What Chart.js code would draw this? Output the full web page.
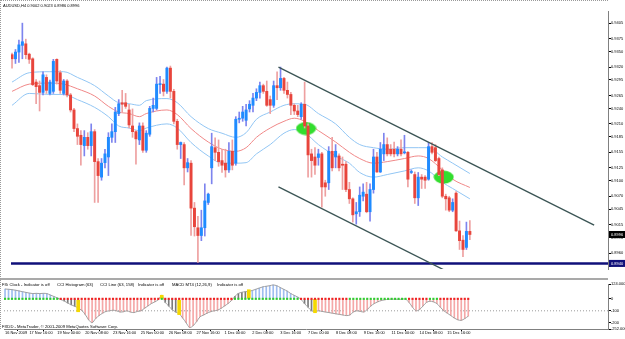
<!DOCTYPE html>
<html><head><meta charset="utf-8">
<script src="https://cdn.jsdelivr.net/npm/chart.js@4.4.0/dist/chart.umd.min.js"></script>
<style>
html,body{margin:0;padding:0;background:#fff;}
#wrap{position:relative;width:625px;height:339px;overflow:hidden;background:#fff;font-family:'Liberation Sans',Arial,sans-serif;}
canvas{position:absolute;left:0;}
#main{top:0;}
#ind{top:280px;}
.t{position:absolute;white-space:nowrap;font-size:4.2px;line-height:5px;color:#000;}
#sep{position:absolute;left:0;top:278px;width:608px;height:2px;background:#a9a9a9;}
#lb{position:absolute;left:0;top:0;width:0;height:329px;border-left:1px dotted #9a9a9a;}
#tb{position:absolute;left:0;top:0;width:608px;height:0;border-top:1px dotted #9a9a9a;}
</style></head>
<body><div id="wrap">
<canvas id="main" width="625" height="280"></canvas>
<canvas id="ind" width="625" height="59"></canvas>
<div id="sep"></div><div id="lb"></div><div id="tb"></div>
<div class="t" id="hdr" style="left:3px;top:3px;font-size:4.0px"></div>
<div class="t" style="left:2px;top:282px">FXi Clock - Indicator is off</div>
<div class="t" style="left:57px;top:282px">CCI Histogram (63)</div>
<div class="t" style="left:100px;top:282px">CCI Line (63, 158)</div>
<div class="t" style="left:138px;top:282px">Indicator is off</div>
<div class="t" style="left:172px;top:282px">MACD MT4 (12,26,9)</div>
<div class="t" style="left:217px;top:282px">Indicator is off</div>
<div class="t" style="left:2px;top:324px">FXDD - MetaTrader, © 2001-2009 MetaQuotes Software Corp.</div>
</div>
<script>
const symbol = 'AUDUSD', timeframe = 'H4';
const opens = [
0.9344,0.9336,0.9349,0.9362,0.9365,0.9345,0.9336,0.9291,0.9284,0.9271,
0.9300,0.9269,0.9273,0.9335,0.9309,0.9269,0.9293,0.9266,0.9237,0.9201,
0.9188,0.9168,0.9184,0.9168,0.9195,0.9137,0.9107,0.9135,0.9146,0.9184,
0.9195,0.9230,0.9251,0.9251,0.9237,0.9206,0.9195,0.9179,0.9206,0.9159,
0.9190,0.9240,0.9240,0.9286,0.9287,0.9273,0.9318,0.9273,0.9215,0.9170,
0.9170,0.9125,0.9134,0.9047,0.9009,0.8994,0.9009,0.9058,0.9125,0.9164,
0.9155,0.9139,0.9134,0.9121,0.9157,0.9134,0.9219,0.9221,0.9217,0.9239,
0.9246,0.9260,0.9271,0.9284,0.9273,0.9257,0.9246,0.9284,0.9280,0.9298,
0.9275,0.9267,0.9246,0.9235,0.9224,0.9248,0.9206,0.9152,0.9146,0.9145,
0.9152,0.9096,0.9096,0.9157,0.9146,0.9148,0.9132,0.9132,0.9083,0.9065,
0.9036,0.9040,0.9070,0.9074,0.9040,0.9083,0.9146,0.9117,0.9152,0.9170,
0.9161,0.9161,0.9152,0.9161,0.9154,0.9155,0.9116,0.9112,0.9067,0.9107,
0.9107,0.9103,0.9166,0.9164,0.9143,0.9121,0.9070,0.9067,0.9043,0.9076,
0.9003,0.8985,0.8971,0.9002];
const highs = [
0.9347,0.9354,0.9372,0.9405,0.9374,0.9347,0.9338,0.9296,0.9293,0.9311,
0.9305,0.9295,0.9335,0.9336,0.9313,0.9296,0.9296,0.9269,0.9240,0.9210,
0.9197,0.9197,0.9193,0.9210,0.9199,0.9143,0.9143,0.9161,0.9193,0.9210,
0.9242,0.9257,0.9275,0.9269,0.9248,0.9239,0.9197,0.9212,0.9212,0.9197,
0.9244,0.9260,0.9300,0.9302,0.9296,0.9320,0.9322,0.9277,0.9219,0.9175,
0.9174,0.9143,0.9139,0.9058,0.9031,0.9043,0.9094,0.9076,0.9192,0.9183,
0.9179,0.9161,0.9161,0.9174,0.9179,0.9224,0.9233,0.9244,0.9248,0.9255,
0.9269,0.9278,0.9291,0.9287,0.9293,0.9264,0.9293,0.9311,0.9320,0.9300,
0.9291,0.9271,0.9249,0.9246,0.9251,0.9291,0.9210,0.9161,0.9164,0.9161,
0.9155,0.9101,0.9166,0.9184,0.9170,0.9152,0.9146,0.9137,0.9097,0.9067,
0.9058,0.9088,0.9094,0.9097,0.9094,0.9161,0.9155,0.9174,0.9192,0.9183,
0.9170,0.9175,0.9166,0.9179,0.9188,0.9157,0.9121,0.9117,0.9116,0.9112,
0.9110,0.9174,0.9174,0.9170,0.9146,0.9125,0.9074,0.9070,0.9065,0.9079,
0.9022,0.8994,0.9020,0.9023];
const lows = [
0.9318,0.9327,0.9329,0.9336,0.9336,0.9327,0.9284,0.9249,0.9235,0.9266,
0.9269,0.9266,0.9269,0.9287,0.9269,0.9266,0.9262,0.9233,0.9195,0.9170,
0.9130,0.9148,0.9161,0.9148,0.9058,0.9058,0.9101,0.9125,0.9110,0.9174,
0.9174,0.9226,0.9233,0.9240,0.9202,0.9184,0.9132,0.9170,0.9155,0.9155,
0.9186,0.9233,0.9237,0.9269,0.9264,0.9269,0.9260,0.9210,0.9161,0.9143,
0.9092,0.9117,0.8994,0.8993,0.8942,0.8984,0.8993,0.9054,0.9094,0.9139,
0.9128,0.9116,0.9107,0.9116,0.9121,0.9130,0.9212,0.9215,0.9206,0.9233,
0.9233,0.9255,0.9260,0.9269,0.9244,0.9230,0.9242,0.9257,0.9275,0.9269,
0.9260,0.9228,0.9228,0.9224,0.9219,0.9202,0.9107,0.9107,0.9112,0.9130,
0.9049,0.9070,0.9083,0.9119,0.9125,0.9119,0.9083,0.9079,0.9056,0.9020,
0.9016,0.9031,0.9061,0.9038,0.9022,0.9076,0.9116,0.9116,0.9139,0.9148,
0.9148,0.9146,0.9148,0.9148,0.9152,0.9088,0.9114,0.9056,0.9052,0.9085,
0.9085,0.9101,0.9152,0.9137,0.9110,0.9067,0.9043,0.9040,0.9040,0.9002,
0.8967,0.8953,0.8967,0.8986];
const closes = [
0.9336,0.9349,0.9363,0.9369,0.9344,0.9335,0.9286,0.9282,0.9271,0.9305,
0.9275,0.9291,0.9331,0.9293,0.9275,0.9293,0.9266,0.9237,0.9201,0.9186,
0.9170,0.9184,0.9168,0.9195,0.9137,0.9110,0.9134,0.9152,0.9184,0.9195,
0.9233,0.9249,0.9248,0.9244,0.9208,0.9195,0.9181,0.9206,0.9159,0.9192,
0.9240,0.9246,0.9287,0.9287,0.9273,0.9318,0.9273,0.9215,0.9170,0.9174,
0.9125,0.9135,0.9047,0.9011,0.8994,0.9009,0.9061,0.9074,0.9166,0.9155,
0.9137,0.9130,0.9121,0.9157,0.9130,0.9219,0.9221,0.9233,0.9237,0.9248,
0.9260,0.9271,0.9284,0.9273,0.9246,0.9246,0.9284,0.9280,0.9298,0.9275,
0.9267,0.9246,0.9235,0.9228,0.9248,0.9206,0.9150,0.9139,0.9130,0.9152,
0.9088,0.9088,0.9157,0.9125,0.9157,0.9125,0.9130,0.9083,0.9065,0.9034,
0.9040,0.9072,0.9078,0.9040,0.9083,0.9146,0.9117,0.9161,0.9170,0.9152,
0.9152,0.9152,0.9161,0.9152,0.9155,0.9103,0.9117,0.9067,0.9107,0.9103,
0.9101,0.9166,0.9155,0.9139,0.9112,0.9070,0.9065,0.9043,0.9058,0.9003,
0.8984,0.8967,0.9002,0.8996];

// envelope bands sampled at bar indexes
const bandIdx = [0,5,11,15,19,24,28,31,34,37,39,45,48,52,57,61,65,68,71,75,79,82,85,89,94,98,101,105,109,114,118,121,125,128,133];
const bandUpper = [0.9291,0.9309,0.9311,0.9311,0.9300,0.9284,0.9264,0.9251,0.9249,0.9246,0.9255,0.9259,0.9251,0.9224,0.9201,0.9192,0.9184,0.9193,0.9219,0.9233,0.9246,0.9249,0.9248,0.9230,0.9210,0.9184,0.9170,0.9164,0.9161,0.9164,0.9164,0.9164,0.9146,0.9134,0.9114];
const bandMid = [0.9273,0.9287,0.9289,0.9287,0.9278,0.9264,0.9244,0.9233,0.9230,0.9224,0.9230,0.9237,0.9228,0.9201,0.9175,0.9161,0.9157,0.9164,0.9184,0.9202,0.9215,0.9221,0.9215,0.9197,0.9175,0.9155,0.9143,0.9134,0.9137,0.9143,0.9148,0.9143,0.9121,0.9103,0.9087];
const bandLower = [0.9246,0.9269,0.9267,0.9267,0.9257,0.9242,0.9224,0.9206,0.9202,0.9197,0.9202,0.9210,0.9202,0.9174,0.9148,0.9134,0.9134,0.9135,0.9152,0.9170,0.9192,0.9199,0.9193,0.9170,0.9148,0.9134,0.9116,0.9107,0.9112,0.9119,0.9125,0.9119,0.9097,0.9085,0.9065];

// drawn objects
const upperTrendX = [77.4, 169.1], upperTrendY = [0.9320, 0.9014];
const lowerTrendX = [77.4, 128.0], lowerTrendY = [0.9088, 0.8919];
const ellipseX = [85.4, 125.4], ellipseY = [0.9201, 0.9107];
const levelLine = 0.8940;

const priceTicks = [0.9405,0.9375,0.9350,0.9320,0.9295,0.9265,0.9240,0.9210,0.9185,0.9155,0.9125,0.9100,0.9070,0.9045,0.9015,0.8990,0.8960,0.8935];
const timeIdx = [0,7,15,23,31,39,47,55,63,71,79,87,95,103,111,119,127];
const timeLabels = ['16 Nov 2009','17 Nov 16:00','19 Nov 00:00','20 Nov 08:00','23 Nov 16:00','25 Nov 00:00','26 Nov 08:00','27 Nov 16:00','1 Dec 00:00','2 Dec 08:00','3 Dec 16:00','7 Dec 00:00','8 Dec 08:00','9 Dec 16:00','11 Dec 00:00','14 Dec 08:00','15 Dec 16:00'];

// CCI histogram
const cciValues = [
82,80,77,72,66,60,54,48,44,46,
44,46,44,32,20,8,-6,-18,-35,-50,
-62,-76,-96,-130,-175,-200,-165,-140,-120,-105,
-100,-95,-100,-110,-108,-100,-110,-115,-105,-100,
-80,-60,-40,-25,-8,30,-30,-60,-90,-110,
-125,-160,-200,-240,-225,-190,-150,-135,-120,-108,
-100,-95,-80,-60,-40,-15,20,45,55,60,
62,70,80,90,100,105,110,116,110,95,
80,65,45,30,15,-5,-40,-70,-100,-105,
-100,-105,-110,-115,-120,-125,-130,-135,-140,-135,
-110,-100,-105,-110,-90,-60,-40,-25,-15,-8,
-4,-2,-3,-4,-3,-2,-30,-70,-100,-90,
-60,-30,-20,-25,-40,-70,-100,-120,-140,-160,
-175,-180,-165,-145];
const grayBars = [16,17,18,19,20,46,47,48,49,66,67,68,69,85,86,87,88];
const yellowIdx = [21,45,50,70,89];
const yellowFrom = [-12,0,-12,0,-4];
const yellowTo = [-108,30,-132,76,-116];
const cciLineSign = [
1,1,1,1,1,1,1,1,1,1,1,1,1,1,1,1,
-1,-1,-1,-1,-1,-1,-1,-1,-1,-1,-1,-1,-1,-1,-1,-1,-1,-1,-1,-1,-1,-1,-1,-1,-1,-1,-1,-1,-1,
1,
-1,-1,-1,-1,-1,-1,-1,-1,-1,-1,-1,-1,-1,-1,-1,-1,-1,-1,-1,-1,
1,1,1,1,1,1,1,1,1,1,1,1,1,1,1,1,1,1,1,
-1,-1,-1,-1,-1,-1,-1,-1,-1,-1,-1,-1,-1,-1,
1,1,1,1,1,1,1,1,1,1,1,1,1,1,1,1,1,
-1,-1,-1,-1,-1,-1,
1,1,1,
-1,-1,-1,-1,-1,-1,-1,-1,-1];
const cciLevel = -100;
const cciAxisTicks = [124, 0, -100, -200, -252];

const N = opens.length;
const last = N - 1;
document.getElementById('hdr').textContent =
  symbol + ',' + timeframe + '  ' + [opens[last], highs[last], lows[last], closes[last]].map(v => v.toFixed(4)).join(' ');

const X_MIN = -0.3, X_MAX = 173.13;
const FAM = "'Liberation Sans', Arial, sans-serif";
const FONT = {family: FAM, size: 4.0};
const XFONT = {family: FAM, size: 3.9};
const isUp = i => closes[i] >= opens[i];

function ellipseImg() {
  const c = document.createElement('canvas');
  c.width = 21; c.height = 14;
  const g = c.getContext('2d');
  g.fillStyle = '#33dd2e';
  g.beginPath(); g.ellipse(10.5, 7, 10, 6.5, 0, 0, Math.PI * 2); g.fill();
  return c;
}

const markers = [
  {value: closes[last], bg: '#000000'},
  {value: levelLine, bg: '#10107a'}
];
const markerPlugin = {
  id: 'markers',
  afterDraw(chart) {
    const ys = chart.scales.y, ctx = chart.ctx;
    const left = chart.chartArea.right + 1;
    ctx.save();
    markers.forEach(m => {
      const py = ys.getPixelForValue(m.value);
      ctx.fillStyle = m.bg;
      ctx.fillRect(left, py - 3.5, chart.width - left, 7);
      ctx.fillStyle = '#ffffff';
      ctx.font = FONT.size + 'px ' + FAM;
      ctx.textBaseline = 'middle';
      ctx.fillText(m.value.toFixed(4), left + 2, py);
    });
    ctx.restore();
  }
};

new Chart(document.getElementById('main'), {
  type: 'bar',
  data: {
    datasets: [
      {type: 'line', order: 0, data: upperTrendX.map((x, k) => ({x, y: upperTrendY[k]})),
       borderColor: '#3b5555', borderWidth: 1.3, pointRadius: 0},
      {type: 'line', order: 0, data: lowerTrendX.map((x, k) => ({x, y: lowerTrendY[k]})),
       borderColor: '#3b5555', borderWidth: 1.3, pointRadius: 0},
      {type: 'bar', order: 1, grouped: false, barThickness: 2.3, minBarLength: 1,
       data: opens.map((o, i) => ({x: i, y: [o, closes[i]]})),
       backgroundColor: opens.map((o, i) => isUp(i) ? '#1f8bff' : '#e8453c')},
      {type: 'bar', order: 2, grouped: false, barThickness: 1,
       data: opens.map((o, i) => ({x: i, y: [lows[i], highs[i]]})),
       backgroundColor: opens.map((o, i) => isUp(i) ? '#7d84ee' : '#eea0a0')},
      {type: 'line', order: 3, data: [{x: X_MIN, y: levelLine}, {x: X_MAX, y: levelLine}],
       borderColor: '#10107a', borderWidth: 2.5, pointRadius: 0},
      {type: 'line', order: 4, showLine: false, data: ellipseX.map((x, k) => ({x, y: ellipseY[k]})),
       pointStyle: ellipseImg(), pointRadius: 10},
      {type: 'line', order: 5, data: bandIdx.map((x, k) => ({x, y: bandUpper[k]})),
       borderColor: '#92c6f4', borderWidth: 1, pointRadius: 0, cubicInterpolationMode: 'monotone'},
      {type: 'line', order: 5, data: bandIdx.map((x, k) => ({x, y: bandMid[k]})),
       borderColor: '#f08888', borderWidth: 1, pointRadius: 0, cubicInterpolationMode: 'monotone'},
      {type: 'line', order: 5, data: bandIdx.map((x, k) => ({x, y: bandLower[k]})),
       borderColor: '#92c6f4', borderWidth: 1, pointRadius: 0, cubicInterpolationMode: 'monotone'}
    ]
  },
  options: {
    responsive: false, animation: false, devicePixelRatio: 1, events: [],
    layout: {padding: {left: 1, top: 2, right: 0, bottom: 2}},
    plugins: {legend: {display: false}, tooltip: {enabled: false}},
    scales: {
      x: {type: 'linear', min: X_MIN, max: X_MAX, offset: false, display: false},
      y: {type: 'linear', position: 'right', min: 0.89292, max: 0.94285,
          afterFit(s) { s.width = 17; },
          afterBuildTicks(s) { s.ticks = priceTicks.map(v => ({value: v})); },
          ticks: {autoSkip: false, padding: 0, color: '#000', font: FONT, callback: v => Number(v).toFixed(4)},
          grid: {display: true, drawOnChartArea: false, drawTicks: true, tickLength: 3, color: '#000'},
          border: {display: true, color: '#808080', width: 1}}
    }
  },
  plugins: [markerPlugin]
});

new Chart(document.getElementById('ind'), {
  type: 'bar',
  data: {
    datasets: [
      {type: 'line', order: 0, showLine: false, data: cciValues.map((v, i) => ({x: i, y: 0})),
       pointStyle: 'rect', pointRadius: 1.5, pointBorderWidth: 0,
       pointBackgroundColor: cciLineSign.map(s => s > 0 ? '#2ecc2e' : '#ee2222')},
      {type: 'bar', order: 1, grouped: false, barThickness: 3,
       data: yellowIdx.map((x, k) => ({x, y: [yellowFrom[k], yellowTo[k]]})),
       backgroundColor: '#f5d800'},
      {type: 'line', order: 2, data: cciValues.map((v, i) => ({x: i, y: v})),
       borderColor: '#a0a0a0', borderWidth: 1, pointRadius: 0, tension: 0.3},
      {type: 'bar', order: 3, grouped: false, barThickness: 1,
       data: cciValues.map((v, i) => ({x: i, y: v})),
       backgroundColor: cciValues.map((v, i) => grayBars.includes(i) ? '#7a7a7a' : (v >= 0 ? '#9fbdf0' : '#f5a8a8'))},
      {type: 'line', order: 4, data: [{x: X_MIN, y: cciLevel}, {x: X_MAX, y: cciLevel}],
       borderColor: '#9a9a9a', borderWidth: 1, borderDash: [1, 2], pointRadius: 0}
    ]
  },
  options: {
    responsive: false, animation: false, devicePixelRatio: 1, events: [],
    layout: {padding: {left: 1, top: 2, right: 0, bottom: 0}},
    plugins: {legend: {display: false}, tooltip: {enabled: false}},
    scales: {
      x: {type: 'linear', min: X_MIN, max: X_MAX, offset: false,
          afterFit(s) { s.height = 10; },
          afterBuildTicks(s) { s.ticks = timeIdx.map(v => ({value: v})); },
          ticks: {autoSkip: false, maxRotation: 0, minRotation: 0, align: 'start', padding: 0, color: '#000', font: XFONT,
                  callback: (v, i) => timeLabels[i]},
          grid: {display: true, drawOnChartArea: false, drawTicks: true, tickLength: 2, color: '#000'},
          border: {display: true, color: '#808080', width: 1}},
      y: {type: 'linear', position: 'right', min: cciAxisTicks[4], max: cciAxisTicks[0],
          afterFit(s) { s.width = 17; },
          afterBuildTicks(s) { s.ticks = cciAxisTicks.map(v => ({value: v})); },
          ticks: {autoSkip: false, padding: 0, color: '#000', font: FONT,
                  callback: (v, i) => (i === 0 || i === cciAxisTicks.length - 1) ? Number(v).toFixed(4) : String(v)},
          grid: {display: true, drawOnChartArea: false, drawTicks: true, tickLength: 3, color: '#000'},
          border: {display: true, color: '#808080', width: 1}}
    }
  }
});
</script>
</body></html>
